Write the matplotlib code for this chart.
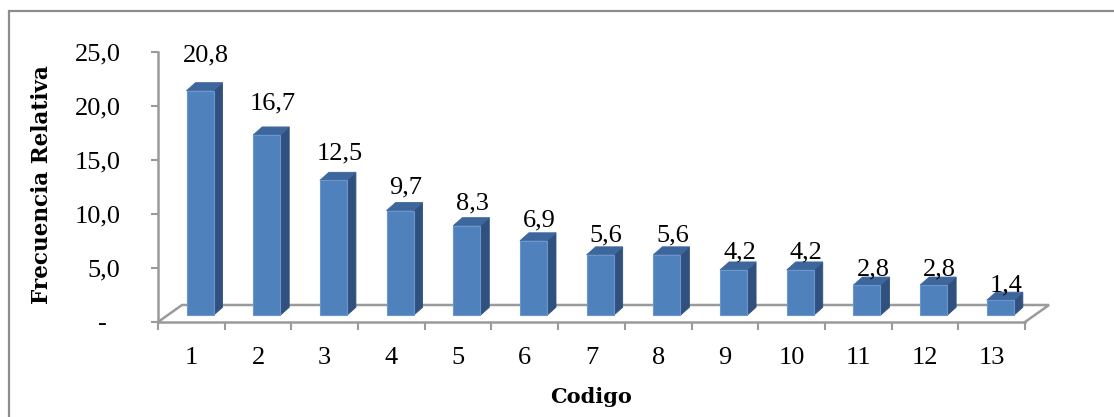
import matplotlib
matplotlib.use("Agg")
import matplotlib.pyplot as plt
from matplotlib.patches import Polygon, Rectangle

# Relative frequency per code
codigos = ["1", "2", "3", "4", "5", "6", "7", "8", "9", "10", "11", "12", "13"]
frecuencia = [20.8, 16.7, 12.5, 9.7, 8.3, 6.9, 5.6, 5.6, 4.2, 4.2, 2.8, 2.8, 1.4]
y_ticks = [0, 5, 10, 15, 20, 25]
y_tick_labels = ["-  ", "5,0", "10,0", "15,0", "20,0", "25,0"]

FONT = "Liberation Serif"
TITLE_FONT = "DejaVu Serif"
GRID = "#9a9a9a"
FRONT = "#4f81bd"
SIDE = "#30517d"
TOP = "#3d679c"
EDGE = "#6b95cb"

W, H = 1114, 417
fig = plt.figure(figsize=(W / 100, H / 100), dpi=100)

# outer chart border
fig.patches.append(Rectangle((9 / W, -0.05), 1.2, 1 - 11 / H + 0.05,
                             transform=fig.transFigure, fill=False,
                             edgecolor="#8c8c8c", linewidth=1.6))

x0, x1, y0, y1 = 158, 1025, 322, 52
ax = fig.add_axes([x0 / W, 1 - y0 / H, (x1 - x0) / W, (y0 - y1) / H])
n = len(codigos)
ax.set_xlim(0, n)
ax.set_ylim(0, 25)
ax.patch.set_visible(False)

for s in ("top", "right"):
    ax.spines[s].set_visible(False)
for s in ("left", "bottom"):
    ax.spines[s].set_color(GRID)
    ax.spines[s].set_linewidth(1.8)

# floor drawn in oblique projection
fdx, fdy = 24 / 66.7, 17 / 10.8
ax.plot([0, fdx, n + fdx, n], [0, fdy, fdy, 0], color=GRID, lw=1.8,
        clip_on=False, zorder=1, solid_joinstyle="miter")

ax.set_yticks(y_ticks)
ax.set_yticklabels(y_tick_labels)
ax.tick_params(axis="y", direction="out", length=5, width=1.5, color=GRID,
               pad=22, labelsize=19)
ax.set_xticks(range(n + 1))
ax.set_xticklabels([])
ax.set_xticks([i + 0.5 for i in range(n)], minor=True)
ax.set_xticklabels(codigos, minor=True)
ax.tick_params(axis="x", which="major", direction="out", length=6,
               width=1.5, color=GRID)
ax.tick_params(axis="x", which="minor", length=0, pad=18, labelsize=19)
for lab in ax.get_yticklabels() + ax.get_xticklabels(minor=True):
    lab.set_fontfamily(FONT)

# 3D-looking columns
bw = 0.405
base = 0.62
ddx, ddy = 9 / 66.7, 8 / 10.8
for i, v in enumerate(frecuencia):
    xc = i + 0.63
    xl, xr = xc - bw / 2, xc + bw / 2
    top = base + v
    ax.add_patch(Polygon([(xr, base), (xr + ddx, base + ddy),
                          (xr + ddx, top + ddy), (xr, top)],
                         closed=True, facecolor=SIDE, edgecolor=SIDE,
                         lw=0.6, zorder=3, clip_on=False))
    ax.add_patch(Polygon([(xl, top), (xl + ddx, top + ddy),
                          (xr + ddx, top + ddy), (xr, top)],
                         closed=True, facecolor=TOP, edgecolor=TOP,
                         lw=0.6, zorder=3, clip_on=False))
    ax.text(xc + 0.09, 1.8 + 1.102 * v, f"{v:.1f}".replace(".", ","),
            ha="center", va="center", fontsize=19, family=FONT,
            clip_on=False, zorder=5)

ax.bar([i + 0.63 for i in range(n)], frecuencia, width=bw, bottom=base,
       color=FRONT, edgecolor=EDGE, linewidth=0.8, zorder=4, clip_on=False)

ax.set_xlabel("Codigo", fontsize=15, fontweight="bold", family=TITLE_FONT,
              labelpad=13)
fig.text(42 / W, 1 - 185 / H, "Frecuencia Relativa", rotation=90,
         ha="center", va="center", fontsize=15.5, fontweight="bold",
         family=TITLE_FONT)

fig.savefig("out.png", dpi=100)
